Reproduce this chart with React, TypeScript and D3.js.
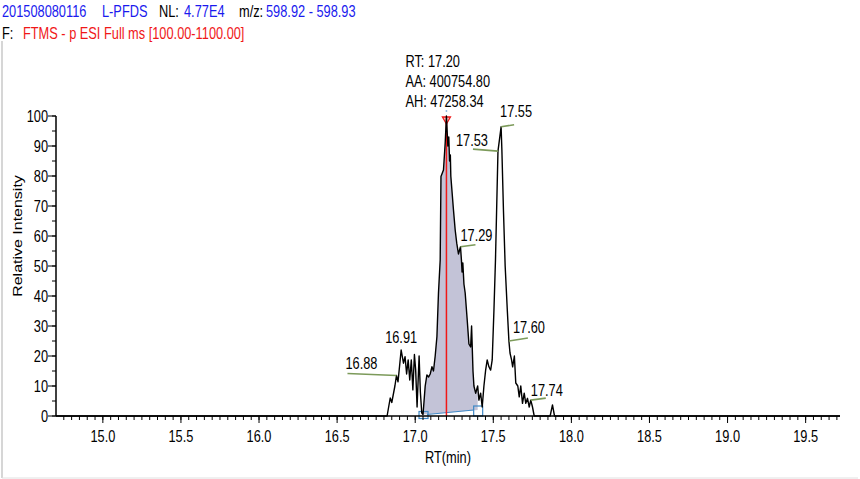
import React from "react";
import * as d3 from "d3";

// Chromatogram trace: retention time (min) and relative intensity (%)
const RT_VALUES = [
  14.7, 16.82, 16.84, 16.85, 16.87, 16.88, 16.89, 16.91, 16.925, 16.935, 16.945, 16.955,
  16.965, 16.975, 16.985, 16.995, 17.003, 17.012, 17.025, 17.033, 17.042, 17.05, 17.064,
  17.075, 17.086, 17.096, 17.107, 17.117, 17.128, 17.139, 17.149, 17.16, 17.165, 17.181,
  17.192, 17.2, 17.209, 17.215, 17.22, 17.225, 17.228, 17.234, 17.245, 17.256, 17.266,
  17.277, 17.29, 17.296, 17.3, 17.305, 17.312, 17.32, 17.333, 17.344, 17.355, 17.361,
  17.37, 17.376, 17.387, 17.4, 17.408, 17.419, 17.429, 17.44, 17.451, 17.461, 17.472,
  17.483, 17.493, 17.504, 17.514, 17.53, 17.55, 17.555, 17.565, 17.576, 17.59, 17.6,
  17.607, 17.617, 17.624, 17.635, 17.644, 17.657, 17.666, 17.676, 17.687, 17.698, 17.708,
  17.719, 17.73, 17.74, 17.751, 17.762, 17.864, 17.879, 17.892, 19.72,
];
const INTENSITY_VALUES = [
  0, 0, 6, 4.5, 10, 13.5, 11.4, 22, 17.6, 19.8, 14, 18.7,
  12, 18.7, 8.7, 20.5, 15.3, 3, 20, 8, 1, 0.5, 10,
  13.7, 13, 14, 16.4, 15, 20, 26.4, 41, 52, 79.8, 82,
  91, 100, 90, 93, 85, 87, 80, 76, 68.7, 62, 57.6,
  54, 56.4, 52, 48, 51, 44, 41, 32, 24, 23, 30,
  15, 10, 7.6, 10, 5.3, 7.6, 3, 10, 15.3, 18.7, 16.4,
  15.3, 18.7, 35, 52, 88.3, 96.4, 88.7, 68.7, 50, 35, 25,
  21, 18.7, 16.4, 20, 11, 10, 6.4, 10, 4.2, 7.6, 4.2,
  5.9, 3, 5.3, 3, 0, 0, 3.7, 0, 0,
];

// Integrated peak: start/end retention times and baseline levels
const PEAK_START = 17.05;
const PEAK_END = 17.4;
const PEAK_BASE = [0.5, 2];
const PEAK_APEX = 17.2;
const PEAK_INFO = ["RT: 17.20", "AA: 400754.80", "AH: 47258.34"];

// Peak retention time labels
const PEAK_LABELS = ["16.88", "16.91", "17.29", "17.53", "17.55", "17.60", "17.74"];

const X_TICK_LABELS = ["15.0", "15.5", "16.0", "16.5", "17.0", "17.5", "18.0", "18.5", "19.0", "19.5"];
const Y_TICK_LABELS = ["0", "10", "20", "30", "40", "50", "60", "70", "80", "90", "100"];

// Label placement (line direction/length and text offsets)
const LABEL_LAYOUT: Record<string, { line: [number, number]; text: [number, number]; anchor: string }> = {
  "16.88": { line: [-49, -2], text: [-51, -7], anchor: "start" },
  "16.91": { line: [0, 0], text: [-16, -7], anchor: "start" },
  "17.29": { line: [15, -2], text: [0, -6], anchor: "start" },
  "17.53": { line: [-25, -2], text: [-42, -5], anchor: "start" },
  "17.55": { line: [13, -2], text: [-1, -10], anchor: "start" },
  "17.60": { line: [19, -3], text: [4, -8], anchor: "start" },
  "17.74": { line: [15, -2], text: [0, -4], anchor: "start" },
};

const SX = 0.8;
const FONT = "'Liberation Sans', Arial, sans-serif";

const W = 860;
const H = 479;

const xScale = d3.scaleLinear().domain([14.7, 19.72]).range([56, 840]);
const yScale = d3.scaleLinear().domain([0, 100]).range([416, 116]);

type Pt = { rt: number; v: number };
const trace: Pt[] = RT_VALUES.map((rt, i) => ({ rt, v: INTENSITY_VALUES[i] }));

const valueAt = (rt: number) => {
  const i = RT_VALUES.findIndex((r) => Math.abs(r - rt) < 1e-6);
  return i >= 0 ? INTENSITY_VALUES[i] : 0;
};

function Txt(props: {
  x: number;
  y: number;
  anchor?: string;
  fill?: string;
  size?: number;
  children: React.ReactNode;
}) {
  const { x, y, anchor = "start", fill = "#000", size = 16, children } = props;
  return (
    <text
      transform={`translate(${x},${y}) scale(${SX},1)`}
      textAnchor={anchor}
      fill={fill}
      fontSize={size}
      fontFamily={FONT}
    >
      {children}
    </text>
  );
}

export default function App() {
  const line = d3
    .line<Pt>()
    .x((d) => xScale(d.rt))
    .y((d) => yScale(d.v));

  const baseAt = d3.scaleLinear().domain([PEAK_START, PEAK_END]).range(PEAK_BASE);
  const peakPts = trace.filter((d) => d.rt >= PEAK_START - 1e-6 && d.rt <= PEAK_END + 1e-6);
  const area = d3
    .area<Pt>()
    .x((d) => xScale(d.rt))
    .y0((d) => yScale(baseAt(d.rt)))
    .y1((d) => yScale(d.v));

  const minorX = d3.range(0, 100).map((i) => +(14.75 + i * 0.05).toFixed(2)).filter((t) => t <= 19.72);
  const minorY = d3.range(0, 21).map((i) => i * 5);

  const apexX = xScale(PEAK_APEX);
  const apexY = yScale(valueAt(PEAK_APEX));

  const blue = "#1a1aee";
  const red = "#f01818";

  return (
    <svg
      width={W}
      height={H}
      style={{ position: "absolute", left: 0, top: 0, background: "#fff" }}
    >
      <rect x={0} y={0} width={W} height={H} fill="#fff" />
      {/* frame */}
      <line x1={2} y1={41} x2={2} y2={478} stroke="#c8c8c8" strokeWidth={1.5} />
      <line x1={2} y1={478} x2={858} y2={478} stroke="#e0e0e0" strokeWidth={1} />

      {/* header */}
      <Txt x={2} y={17} fill={blue}>201508080116</Txt>
      <Txt x={102} y={17} fill={blue}>L-PFDS</Txt>
      <Txt x={159} y={17}>NL:</Txt>
      <Txt x={184} y={17} fill={blue}>4.77E4</Txt>
      <Txt x={239} y={17}>m/z:</Txt>
      <Txt x={266} y={17} fill={blue}>598.92 - 598.93</Txt>
      <Txt x={2} y={39}>F:</Txt>
      <Txt x={23} y={39} fill={red}>FTMS - p ESI Full ms [100.00-1100.00]</Txt>

      {/* integrated peak area */}
      <path d={area(peakPts) || ""} fill="#c3c3d7" stroke="none" />
      <line
        x1={xScale(PEAK_START) + 4}
        y1={yScale(PEAK_BASE[0])}
        x2={xScale(PEAK_END) - 4}
        y2={yScale(PEAK_BASE[1])}
        stroke="#3f88c5"
        strokeWidth={1.2}
      />
      <rect
        x={xScale(PEAK_START) - 4}
        y={yScale(PEAK_BASE[0]) - 3}
        width={9}
        height={7}
        fill="none"
        stroke="#3f88c5"
        strokeWidth={1.2}
      />
      <rect
        x={xScale(PEAK_END) - 4}
        y={yScale(PEAK_BASE[1]) - 4}
        width={9}
        height={10}
        fill="none"
        stroke="#3f88c5"
        strokeWidth={1.2}
      />

      {/* apex marker */}
      <line x1={apexX} y1={apexY + 2} x2={apexX} y2={yScale(0)} stroke={red} strokeWidth={1.5} />
      <path
        d={`M${apexX - 4},${apexY + 1} L${apexX + 4},${apexY + 1} L${apexX},${apexY + 8} Z`}
        fill="#f7c8c8"
        stroke={red}
        strokeWidth={1.3}
      />
      <circle cx={apexX} cy={apexY - 5} r={0.9} fill="#8cb8e0" />

      {/* trace */}
      <path d={line(trace) || ""} fill="none" stroke="#000" strokeWidth={1.4} strokeLinejoin="round" />

      {/* axes */}
      <line x1={xScale.range()[0]} y1={yScale(0)} x2={xScale.range()[1]} y2={yScale(0)} stroke="#000" strokeWidth={1.5} />
      <line x1={xScale.range()[0]} y1={yScale(0)} x2={xScale.range()[0]} y2={yScale(100)} stroke="#000" strokeWidth={1.5} />
      {minorX.map((t) => (
        <line key={`mx${t}`} x1={xScale(t)} x2={xScale(t)} y1={yScale(0)} y2={yScale(0) + 4} stroke="#000" strokeWidth={1} />
      ))}
      {X_TICK_LABELS.map((l) => (
        <g key={`x${l}`}>
          <line x1={xScale(+l)} x2={xScale(+l)} y1={yScale(0)} y2={yScale(0) + 7} stroke="#000" strokeWidth={1} />
          <Txt x={xScale(+l)} y={442} anchor="middle">{l}</Txt>
        </g>
      ))}
      {minorY.map((t) => (
        <line key={`my${t}`} x1={xScale.range()[0] - 4} x2={xScale.range()[0]} y1={yScale(t)} y2={yScale(t)} stroke="#000" strokeWidth={1} />
      ))}
      {Y_TICK_LABELS.map((l) => (
        <g key={`y${l}`}>
          <line x1={xScale.range()[0] - 8} x2={xScale.range()[0]} y1={yScale(+l)} y2={yScale(+l)} stroke="#000" strokeWidth={1} />
          <Txt x={48} y={yScale(+l) + 6} anchor="end">{l}</Txt>
        </g>
      ))}
      <Txt x={(xScale.range()[0] + xScale.range()[1]) / 2} y={463} anchor="middle">RT(min)</Txt>
      <text
        transform={`translate(22,${(yScale(0) + yScale(100)) / 2 - 30}) rotate(-90) scale(1,${SX})`}
        textAnchor="middle"
        fontSize={16}
        fontFamily={FONT}
        fill="#000"
      >
        Relative Intensity
      </text>

      {/* peak info */}
      {PEAK_INFO.map((s, i) => (
        <Txt key={s} x={apexX - 41} y={67 + i * 20}>{s}</Txt>
      ))}

      {/* peak labels */}
      {PEAK_LABELS.map((l) => {
        const px = xScale(+l);
        const py = yScale(valueAt(+l));
        const lay = LABEL_LAYOUT[l];
        const hasLine = lay.line[0] !== 0;
        return (
          <g key={`pl${l}`}>
            {hasLine && (
              <line
                x1={px}
                y1={py}
                x2={px + lay.line[0]}
                y2={py + lay.line[1]}
                stroke="#7c9a5a"
                strokeWidth={1.6}
              />
            )}
            <Txt x={px + lay.text[0]} y={py + lay.text[1]} anchor={lay.anchor}>{l}</Txt>
          </g>
        );
      })}
    </svg>
  );
}
